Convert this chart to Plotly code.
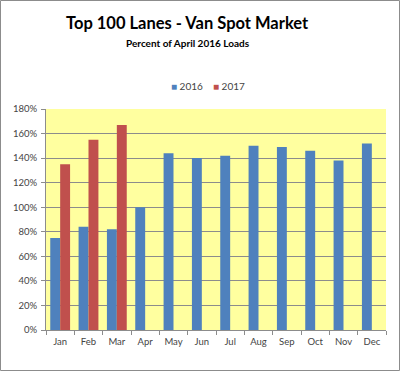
import plotly.graph_objects as go

months = ["Jan", "Feb", "Mar", "Apr", "May", "Jun", "Jul", "Aug", "Sep", "Oct", "Nov", "Dec"]
v2016 = [75, 84, 82, 100, 144, 140, 142, 150, 149, 146, 138, 152]
v2017 = [135, 155, 167, None, None, None, None, None, None, None, None, None]
yticks = [0, 20, 40, 60, 80, 100, 120, 140, 160, 180]
series = [("2016", v2016, "#4F81BD"), ("2017", v2017, "#C0504D")]

W, H = 400, 371
L, R, T, B = 46, 14, 109, 41
PW, PH = W - L - R, H - T - B

def px(x):
    return (x - L) / PW

def py(y):
    return (H - B - y) / PH

fig = go.Figure()
for name, vals, col in series:
    fig.add_trace(go.Bar(x=months, y=vals, name=name, showlegend=False,
                         marker=dict(color=col, line=dict(width=0))))

font = "Lato, Open Sans, Liberation Sans, DejaVu Sans, sans-serif"

# legend drawn as text items
legend_x = [170, 212]
annotations = []
for (name, vals, col), lx in zip(series, legend_x):
    annotations.append(dict(
        text=f'<span style="color:{col}">■</span> {name}', xref="paper", yref="paper",
        x=px(lx - 1), y=py(86), xanchor="left", yanchor="middle", showarrow=False,
        font=dict(family=font, size=10, color="#444")))

annotations += [
    dict(text="<b>Top 100 Lanes - Van Spot Market</b>", xref="paper", yref="paper",
         x=px(187.5), y=py(23), xanchor="center", yanchor="middle",
         showarrow=False, font=dict(family=font, size=16.5, color="black")),
    dict(text="<b>Percent of April 2016 Loads</b>", xref="paper", yref="paper",
         x=px(188), y=py(43), xanchor="center", yanchor="middle",
         showarrow=False, font=dict(family=font, size=10, color="black")),
]

fig.update_layout(
    width=W, height=H,
    margin=dict(l=L, r=R, t=T, b=B, autoexpand=False),
    paper_bgcolor="white",
    plot_bgcolor="#FFFF9F",
    barmode="group",
    bargap=0.3,
    bargroupgap=0,
    showlegend=False,
    font=dict(family=font, size=9, color="#444"),
    annotations=annotations,
    shapes=[
        dict(type="rect", xref="paper", yref="paper",
             x0=px(0.5), x1=px(W - 0.5), y0=py(H - 0.5), y1=py(0.5),
             line=dict(color="#8c8c8c", width=1), fillcolor="rgba(0,0,0,0)", layer="above"),
    ],
)
fig.update_xaxes(showgrid=False, showline=True, linecolor="#8c8c8c", linewidth=1,
                 ticks="outside", tickson="boundaries", ticklen=4, tickcolor="#8c8c8c",
                 ticklabelstandoff=3,
                 tickfont=dict(size=9.5, color="#444"), automargin=False)
fig.update_yaxes(range=[0, 180], tickvals=yticks, ticktext=[f"{t}%" for t in yticks],
                 showgrid=True, gridcolor="#8c8c8c", gridwidth=1, showline=True,
                 linecolor="#8c8c8c", ticks="outside", ticklen=4, tickcolor="#8c8c8c",
                 ticklabelstandoff=2,
                 zeroline=False, tickfont=dict(size=9.5, color="#444"), automargin=False)

fig.write_html("out.html", config={"displayModeBar": False},
               post_script="document.body.style.margin='0';")
